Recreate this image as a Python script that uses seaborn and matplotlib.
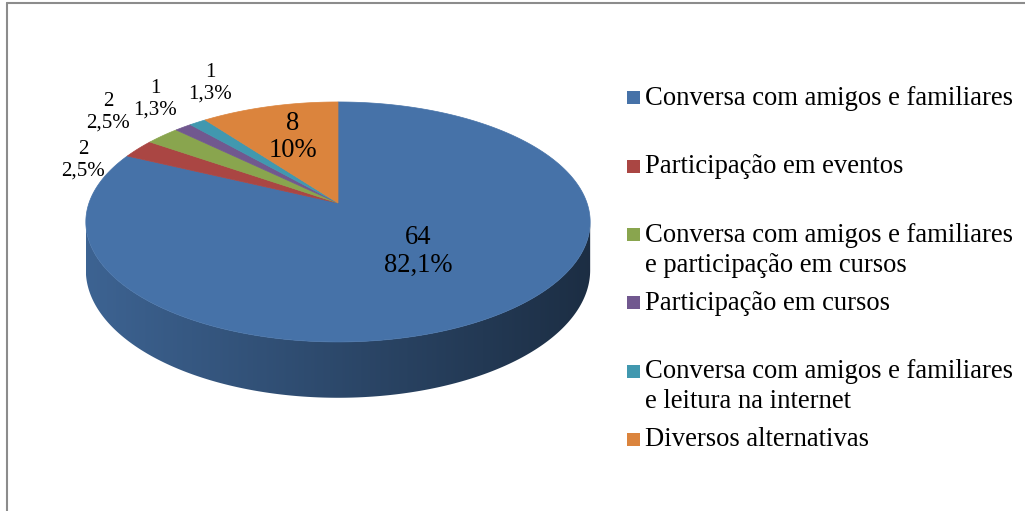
import numpy as np
import matplotlib
matplotlib.use("Agg")
import matplotlib.pyplot as plt
from matplotlib.patches import Polygon, Rectangle
from matplotlib.lines import Line2D
import seaborn as sns

# data
categories = ["Conversa com amigos e familiares",
              "Participação em eventos",
              "Conversa com amigos e familiares\ne participação em cursos",
              "Participação em cursos",
              "Conversa com amigos e familiares\ne leitura na internet",
              "Diversos alternativas"]
counts = [64, 2, 2, 1, 1, 8]
pct_labels = ["82,1%", "2,5%", "2,5%", "1,3%", "1,3%", "10%"]
colors = ["#4672A8", "#AA4643", "#89A54E", "#71588F", "#4198AF", "#DB843D"]

sns.set_theme(style="white")
plt.rcParams["font.family"] = ["Liberation Serif", "DejaVu Serif"]
pal = sns.color_palette(colors)

W, H = 1025, 511
fig = plt.figure(figsize=(W / 100, H / 100), dpi=100)
ax = fig.add_axes([0, 0, 1, 1])
ax.set_xlim(0, W)
ax.set_ylim(H, 0)
ax.axis("off")

# pie geometry (pixels), perspective tilt
CX, CY, RX, RY, K, DEPTH = 338, 203, 249, 117, 0.158, 47


def proj(theta, r=1.0, down=0.0):
    u, v = r * np.cos(theta), r * np.sin(theta)
    w = 1 + K * v
    return CX + RX * u / w, CY - RY * v / w + down / w


vals = np.array(counts, dtype=float)
spans = vals / vals.sum() * 2 * np.pi
ends = np.pi / 2 - np.cumsum(spans)
starts = ends + spans


def slice_of(theta):
    for i, (s, e) in enumerate(zip(starts, ends)):
        t = theta
        while t > s:
            t -= 2 * np.pi
        while t < e:
            t += 2 * np.pi
        if e <= t <= s:
            return i
    return 0


# side wall (front half only), shaded left to right
a0 = np.pi + np.arcsin(K)
a1 = 2 * np.pi - np.arcsin(K)
ts = np.linspace(a0, a1, 400)
top = np.array([proj(t) for t in ts])
bot = np.array([proj(t, down=DEPTH) for t in ts])
wall = Polygon(np.vstack([top, bot[::-1]]), closed=True, facecolor="none",
               edgecolor="none")
ax.add_patch(wall)
xl, xr = top[0, 0], top[-1, 0]
ytop, ybot = top[:, 1].min(), bot[:, 1].max()
cols = np.linspace(xl, xr, 600)
th_cols = np.interp(cols, bot[:, 0], ts)
img = np.zeros((2, len(cols), 3))
for j, (xc, tc) in enumerate(zip(cols, th_cols)):
    f = 0.87 - 0.47 * (xc - xl) / (xr - xl)
    img[:, j, :] = np.array(pal[slice_of(tc)]) * f
im = ax.imshow(img, extent=[xl, xr, ybot + 1, ytop - 1], aspect="auto",
               interpolation="bilinear", zorder=1)
im.set_clip_path(wall)
ax.set_xlim(0, W)
ax.set_ylim(H, 0)

# top face slices
for i in range(len(counts)):
    th = np.linspace(starts[i], ends[i], max(int(spans[i] * 80), 4))
    pts = [(CX, CY)] + [proj(t) for t in th]
    ax.add_patch(Polygon(pts, closed=True, facecolor=pal[i],
                         edgecolor=pal[i], lw=0.5, zorder=2))

# data labels
label_pos = [(418, 251), (83, 160), (108, 112), (155, 99), (210, 83), (293, 137)]
label_size = [19.2, 15, 15, 15, 15, 19.2]
for i in range(len(counts)):
    ax.text(label_pos[i][0], label_pos[i][1], f"{counts[i]}\n{pct_labels[i]}",
            ha="center", va="center", fontsize=label_size[i],
            linespacing=1.15, color="black", zorder=3)

# legend (fixed pitch per entry, 30 px per wrapped line)
for i, lab in enumerate(categories):
    yc = 98 + 68.3 * i
    ax.add_patch(Rectangle((627, yc - 6.5), 13, 13, facecolor=pal[i],
                           edgecolor="none"))
    for k, line in enumerate(lab.split("\n")):
        ax.text(645, yc + 7 + 30 * k, line, ha="left", va="baseline",
                fontsize=19.2, color="black")

# chart border
ax.add_line(Line2D([6.5, W], [3, 3], color="#8c8c8c", lw=1.5))
ax.add_line(Line2D([6.5, 6.5], [3, H], color="#8c8c8c", lw=1.5))

fig.savefig("out.png", dpi=100, facecolor="white")
